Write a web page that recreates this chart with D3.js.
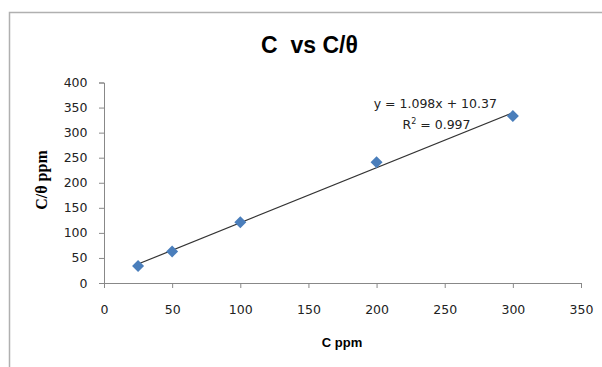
<!DOCTYPE html>
<html><head><meta charset="utf-8">
<script src="https://cdn.jsdelivr.net/npm/d3@7"></script>
<style>body{margin:0;background:#fff}svg{display:block}</style>
</head><body>
<script>
const cValues = [25, 50, 100, 200, 300];
const cThetaValues = [34, 63, 121, 241, 333];
const xTicks = [0, 50, 100, 150, 200, 250, 300, 350];
const yTicks = [0, 50, 100, 150, 200, 250, 300, 350, 400];
const slope = 1.098, intercept = 10.37;
const eqLabel = "y = 1.098x + 10.37";
const r2Label = "0.997";

const W = 602, H = 367;
const svg = d3.select("body").append("svg").attr("width", W).attr("height", H);
svg.append("path").attr("d", `M9.5,${H} V12.5 H${W}`).attr("fill","none").attr("stroke","#b0b0b0").attr("stroke-width",1.5);

const x = d3.scaleLinear().domain([0,350]).range([104,581]);
const y = d3.scaleLinear().domain([0,400]).range([283,82.5]);
const font = "'Liberation Sans', Arial, sans-serif";
const tfont = "'DejaVu Sans', Verdana, sans-serif";

svg.append("text").attr("x",309.5).attr("y",52.5).attr("text-anchor","middle")
  .attr("font-family",font).attr("font-weight","bold").attr("font-size",23)
  .attr("xml:space","preserve").style("white-space","pre").text("C  vs C/θ");

const xa = svg.append("g").attr("transform","translate(0,283)")
  .call(d3.axisBottom(x).tickValues(xTicks).tickSize(5).tickPadding(17));
const ya = svg.append("g").attr("transform","translate(104,0)")
  .call(d3.axisLeft(y).tickValues(yTicks).tickSize(5).tickPadding(11.5));
[xa,ya].forEach(a=>{
  a.select(".domain").attr("stroke","#888");
  a.selectAll(".tick line").attr("stroke","#888");
  a.selectAll(".tick text").attr("font-family",tfont).attr("font-size",12.5).attr("fill","#222");
});

svg.append("text").attr("x",342).attr("y",346.5).attr("text-anchor","middle")
  .attr("font-family",font).attr("font-weight","bold").attr("font-size",13).text("C ppm");
svg.append("text").attr("transform","translate(47,180) rotate(-90)").attr("text-anchor","middle")
  .attr("font-family","'Liberation Serif', 'Times New Roman', serif").attr("font-weight","bold").attr("font-size",16).text("C/θ ppm");

const xs = d3.extent(cValues);
svg.append("line").attr("x1",x(xs[0])).attr("y1",y(slope*xs[0]+intercept))
  .attr("x2",x(xs[1])).attr("y2",y(slope*xs[1]+intercept)).attr("stroke","#333").attr("stroke-width",1.2);

svg.selectAll("path.pt").data(cValues).enter().append("path").attr("class","pt")
  .attr("d", d3.symbol(d3.symbolSquare, 72)())
  .attr("transform",(d,i)=>`translate(${x(d)},${y(cThetaValues[i])}) rotate(45)`)
  .attr("fill","#4a7ebb");

svg.append("text").attr("x",435.3).attr("y",108.3).attr("text-anchor","middle")
  .attr("font-family",tfont).attr("font-size",12.5).attr("fill","#222").text(eqLabel);
const r = svg.append("text").attr("x",436.5).attr("y",129.3).attr("text-anchor","middle")
  .attr("font-family",tfont).attr("font-size",12.5).attr("fill","#222");
r.append("tspan").text("R");
r.append("tspan").attr("dy",-5).attr("font-size",8).text("2");
r.append("tspan").attr("dy",5).text(" = " + r2Label);
</script>
</body></html>
